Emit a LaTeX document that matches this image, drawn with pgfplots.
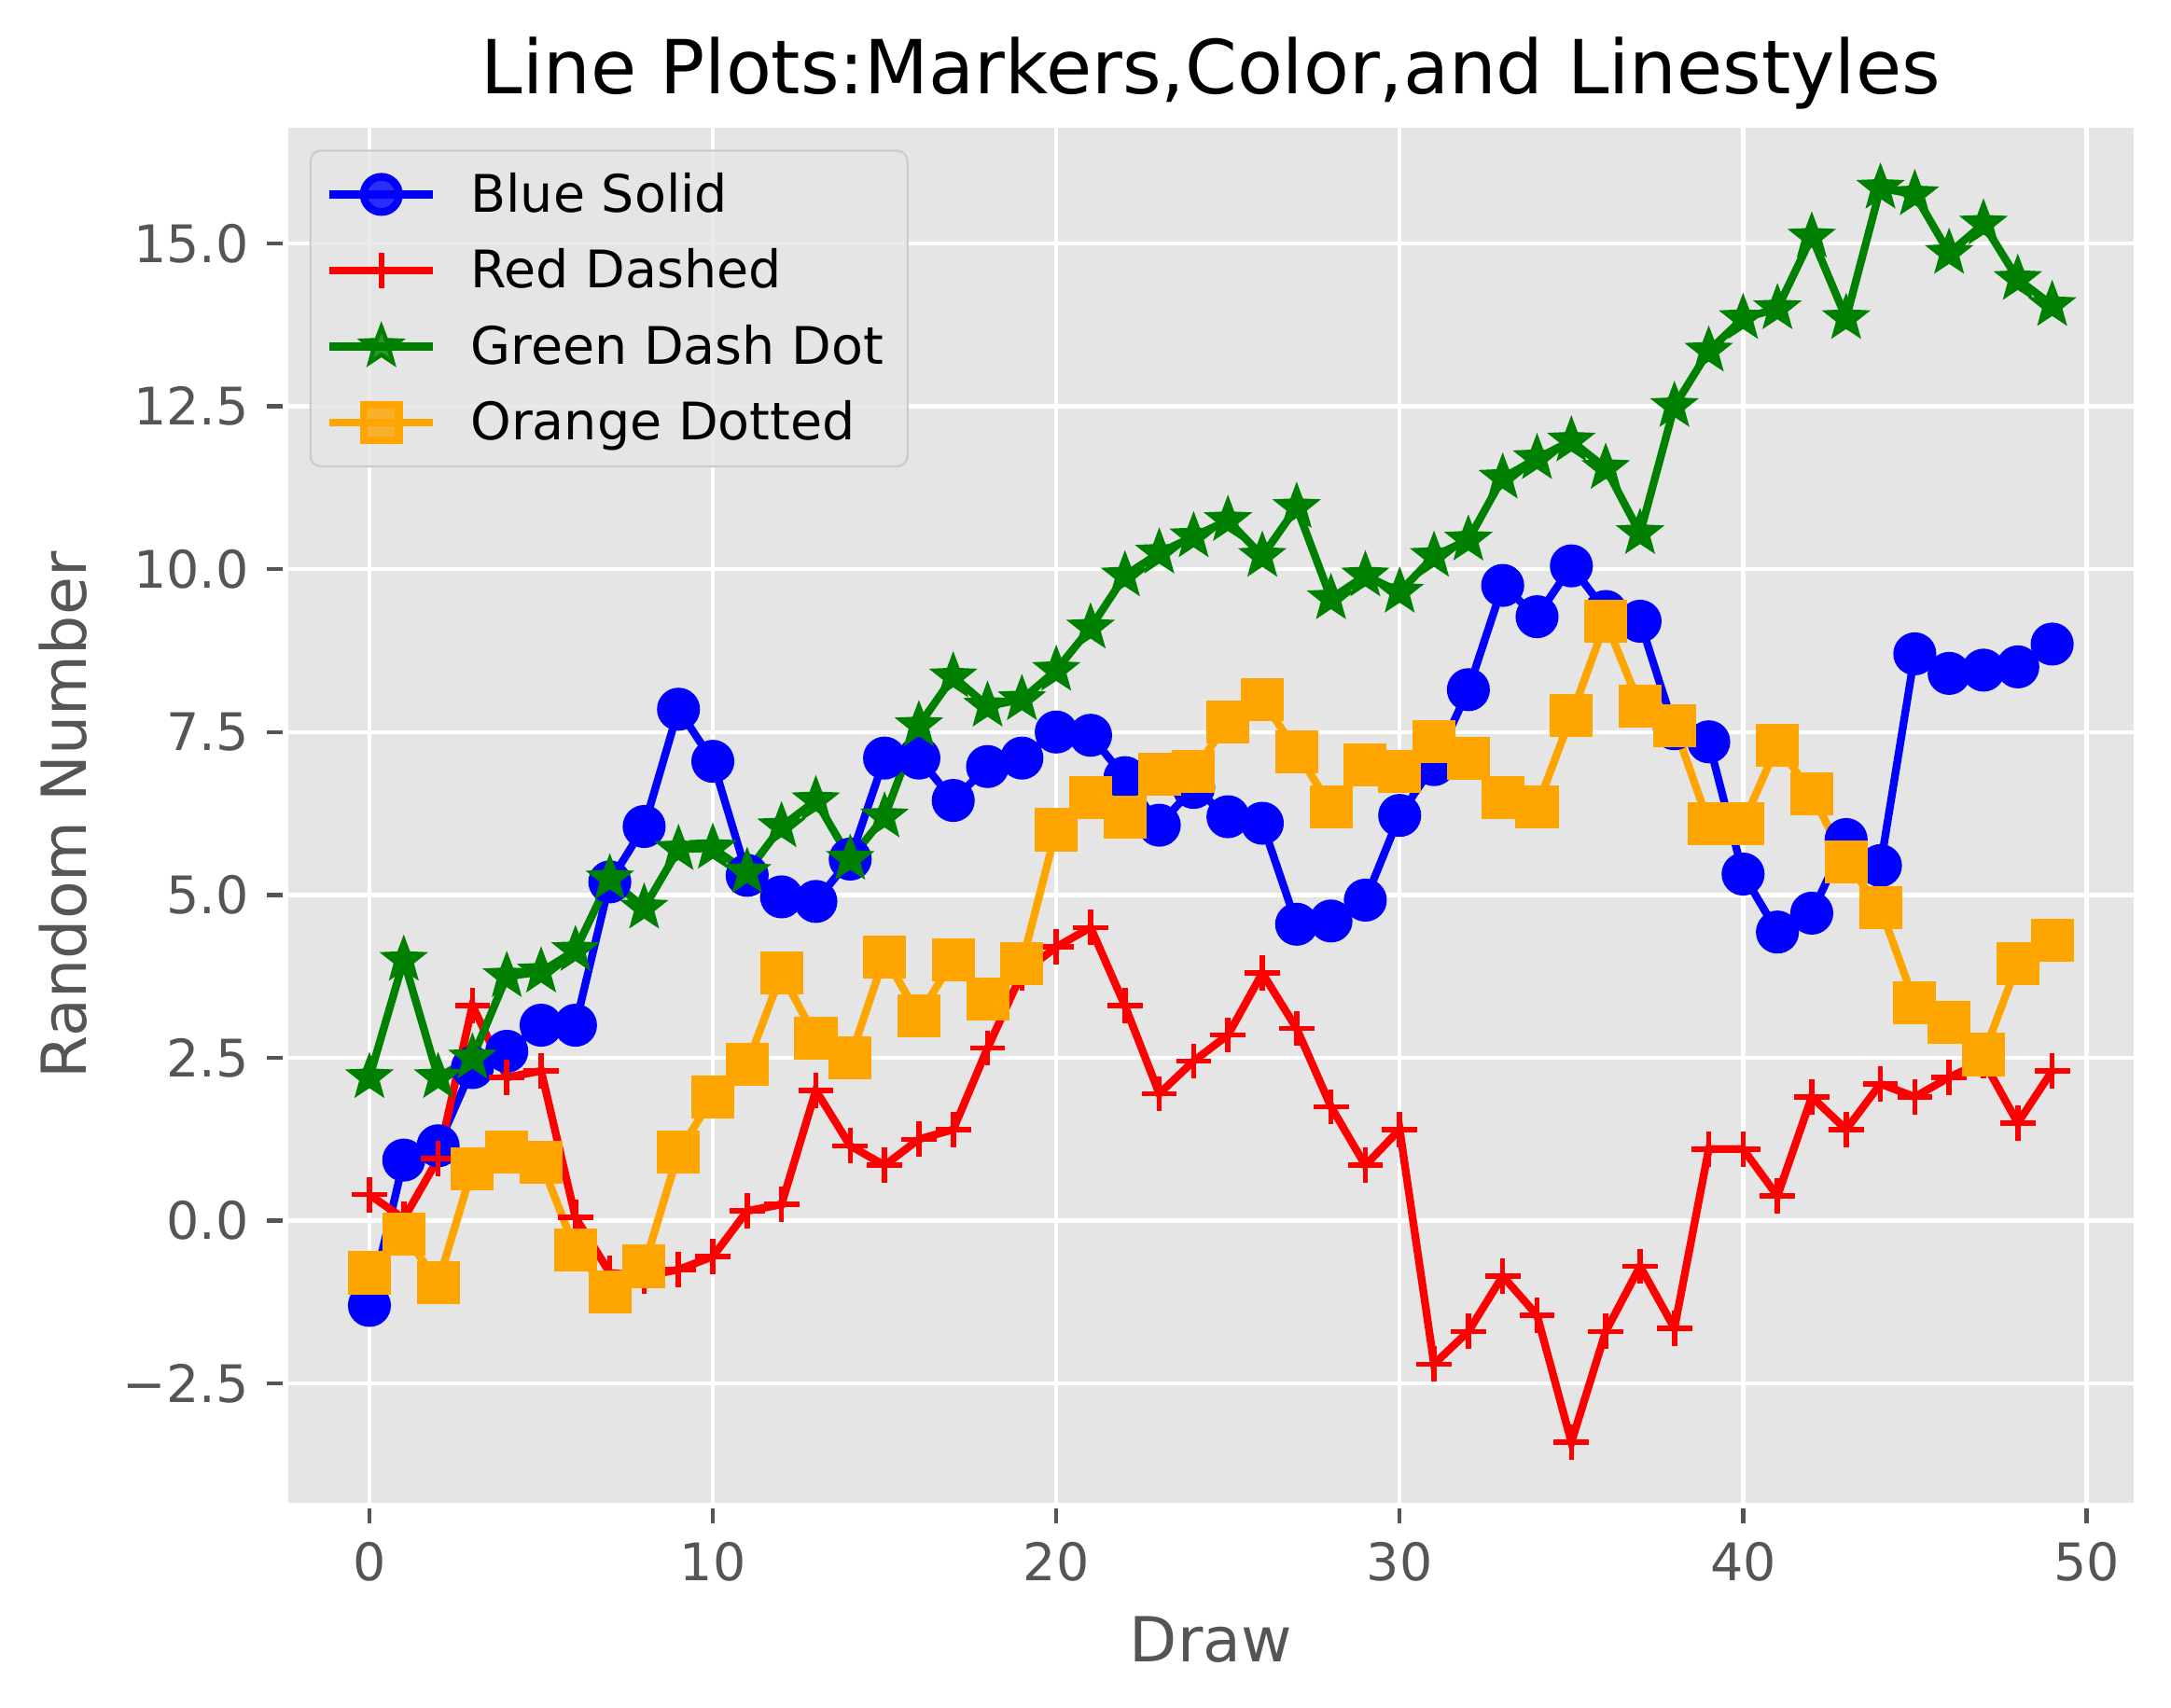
\documentclass[border=0pt]{standalone}
\usepackage{fontspec}
\setmainfont{DejaVu Sans}
\usepackage{pgfplots}
\pgfplotsset{compat=1.18}
\usepackage{pgfplotstable}
\definecolor{bg}{HTML}{E5E5E5}
\definecolor{tickc}{HTML}{555555}
\definecolor{mblue}{HTML}{0000FF}
\definecolor{mred}{HTML}{FF0000}
\definecolor{mgreen}{HTML}{008000}
\definecolor{morange}{HTML}{FFA500}
\definecolor{legedge}{HTML}{CCCCCC}

\pgfdeclareplotmark{fstar}{%
  \pgfpathmoveto{\pgfpointpolar{90}{\pgfplotmarksize}}%
  \pgfpathlineto{\pgfpointpolar{126}{0.42\pgfplotmarksize}}%
  \pgfpathlineto{\pgfpointpolar{162}{\pgfplotmarksize}}%
  \pgfpathlineto{\pgfpointpolar{198}{0.42\pgfplotmarksize}}%
  \pgfpathlineto{\pgfpointpolar{234}{\pgfplotmarksize}}%
  \pgfpathlineto{\pgfpointpolar{270}{0.42\pgfplotmarksize}}%
  \pgfpathlineto{\pgfpointpolar{306}{\pgfplotmarksize}}%
  \pgfpathlineto{\pgfpointpolar{342}{0.42\pgfplotmarksize}}%
  \pgfpathlineto{\pgfpointpolar{18}{\pgfplotmarksize}}%
  \pgfpathlineto{\pgfpointpolar{54}{0.42\pgfplotmarksize}}%
  \pgfpathclose
  \pgfusepathqfillstroke}

\pgfplotstableread{
x y
0 -1.30
1 0.93
2 1.15
3 2.35
4 2.60
5 3.00
6 3.00
7 5.20
8 6.05
9 7.85
10 7.05
11 5.30
12 4.97
13 4.90
14 5.55
15 7.10
16 7.10
17 6.45
18 6.97
19 7.10
20 7.50
21 7.45
22 6.80
23 6.07
24 6.65
25 6.20
26 6.10
27 4.55
28 4.60
29 4.92
30 6.22
31 7.00
32 8.15
33 9.75
34 9.27
35 10.05
36 9.35
37 9.20
38 7.55
39 7.35
40 5.32
41 4.43
42 4.72
43 5.85
44 5.45
45 8.70
46 8.40
47 8.45
48 8.50
49 8.85
}\blue

\pgfplotstableread{
x y
0 0.40
1 0.03
2 0.95
3 3.30
4 2.20
5 2.30
6 0.05
7 -0.80
8 -0.85
9 -0.75
10 -0.55
11 0.15
12 0.25
13 2.00
14 1.15
15 0.85
16 1.25
17 1.40
18 2.65
19 3.80
20 4.20
21 4.50
22 3.30
23 1.95
24 2.45
25 2.85
26 3.80
27 2.95
28 1.75
29 0.85
30 1.40
31 -2.20
32 -1.70
33 -0.85
34 -1.45
35 -3.40
36 -1.70
37 -0.70
38 -1.65
39 1.10
40 1.10
41 0.38
42 1.90
43 1.40
44 2.10
45 1.90
46 2.20
47 2.45
48 1.50
49 2.30
}\red

\pgfplotstableread{
x y
0 2.20
1 4.00
2 2.20
3 2.50
4 3.75
5 3.82
6 4.15
7 5.25
8 4.80
9 5.70
10 5.72
11 5.35
12 6.05
13 6.45
14 5.55
15 6.20
16 7.60
17 8.35
18 7.90
19 8.00
20 8.45
21 9.10
22 9.90
23 10.25
24 10.50
25 10.75
26 10.20
27 10.95
28 9.55
29 9.90
30 9.65
31 10.20
32 10.45
33 11.40
34 11.70
35 11.97
36 11.55
37 10.55
38 12.50
39 13.35
40 13.85
41 14.00
42 15.10
43 13.85
44 15.85
45 15.75
46 14.85
47 15.30
48 14.45
49 14.05
}\green

\pgfplotstableread{
x y
0 -0.80
1 -0.20
2 -0.95
3 0.80
4 1.05
5 0.90
6 -0.45
7 -1.10
8 -0.70
9 1.05
10 1.90
11 2.40
12 3.80
13 2.80
14 2.50
15 4.05
16 3.15
17 4.00
18 3.40
19 3.95
20 6.00
21 6.50
22 6.20
23 6.85
24 6.90
25 7.65
26 8.00
27 7.20
28 6.35
29 7.00
30 6.90
31 7.35
32 7.10
33 6.50
34 6.35
35 7.75
36 9.20
37 7.90
38 7.60
39 6.10
40 6.10
41 7.30
42 6.55
43 5.50
44 4.80
45 3.35
46 3.05
47 2.55
48 3.95
49 4.30
}\orange

\begin{document}
\begin{tikzpicture}
\begin{axis}[
  name=ax,
  scale only axis, width=357.5pt, height=266.7pt,
  xmin=-2.45, xmax=51.45, ymin=-4.37, ymax=16.82,
  axis background/.style={fill=bg},
  axis line style={white, line width=1pt},
  grid=major, major grid style={white, line width=0.8pt},
  tick align=outside, tick pos=left, major tick length=3.5pt,
  tick style={color=tickc, line width=0.8pt},
  xtick={0,10,20,30,40,50},
  xticklabels={0,10,20,30,40,50},
  ytick={-2.5,0,2.5,5,7.5,10,12.5,15},
  yticklabels={−2.5,0.0,2.5,5.0,7.5,10.0,12.5,15.0},
  ticklabel style={font=\fontsize{10}{12}\selectfont, text=tickc},
  xlabel={Draw}, ylabel={Random Number},
  label style={font=\fontsize{12}{14}\selectfont, text=tickc},
  title={Line Plots:Markers,Color,and Linestyles},
  title style={font=\fontsize{14.4}{17}\selectfont, at={(0.5,1)}, anchor=base, yshift=0pt},
  legend cell align=left,
  legend style={at={(0.013,0.982)}, anchor=north west, fill=bg, fill opacity=0.8, text opacity=1,
    draw=legedge, rounded corners=2pt, font=\fontsize{10}{12}\selectfont, row sep=1.8pt,
    nodes={text height=8.2pt, text depth=1.5pt, inner sep=1.6pt}},
  legend image code/.code={\path[draw=none,fill=none] (0cm,0cm) -- (0.9cm,0cm);\draw[mark repeat=2,mark phase=2] plot coordinates {(0cm,0cm) (0.35cm,0cm) (0.7cm,0cm)};},
]
\addplot[mblue, line width=1.5pt, mark=*, mark size=3.4pt, mark options={solid, fill=mblue}] table[x=x,y=y] {\blue};
\addlegendentry{Blue Solid}
\addplot[mred, line width=1.5pt, mark=+, mark size=3.4pt, mark options={solid, line width=1pt}] table[x=x,y=y] {\red};
\addlegendentry{Red Dashed}
\addplot[mgreen, line width=1.5pt, mark=fstar, mark size=3.8pt, mark options={solid, fill=mgreen, line width=0.8pt}] table[x=x,y=y] {\green};
\addlegendentry{Green Dash Dot}
\addplot[morange, line width=1.5pt, mark=square*, mark size=3.4pt, mark options={solid, fill=morange}] table[x=x,y=y] {\orange};
\addlegendentry{Orange Dotted}
\end{axis}
\pgfresetboundingbox
\path ([xshift=-55.1pt,yshift=-39.1pt]ax.south west) rectangle ([xshift=6.7pt,yshift=24.1pt]ax.north east);
\end{tikzpicture}
\end{document}
